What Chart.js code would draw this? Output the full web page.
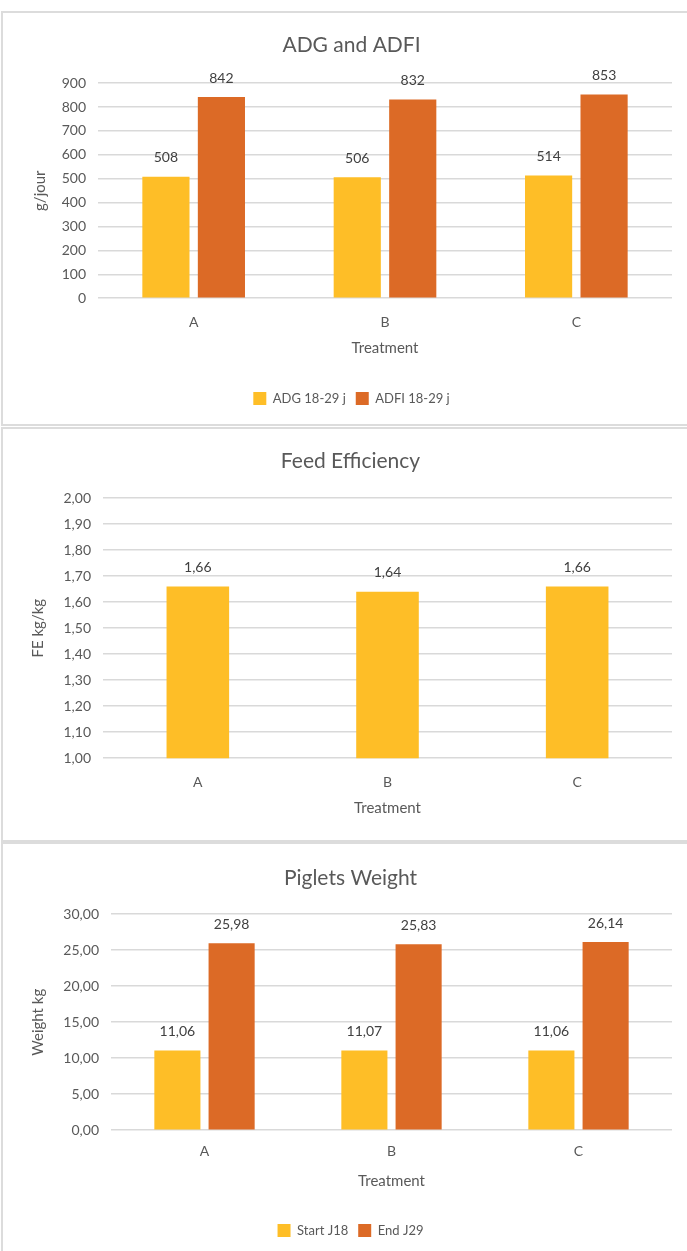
<!DOCTYPE html>
<html>
<head>
<meta charset="utf-8">
<script src="https://cdn.jsdelivr.net/npm/chart.js@4/dist/chart.umd.min.js"></script>
<style>
  body { margin: 0; background: #fff; width: 687px; height: 1251px; overflow: hidden; position: relative; }
  .panel { position: absolute; left: 1px; width: 700px; border: 2px solid #dcdcdc; box-sizing: border-box; background: #fff; }
  .panel canvas { position: absolute; left: 0; top: 0; }
</style>
</head>
<body>
<div class="panel" style="top:11px;height:415px;"><canvas id="c1" width="686" height="411"></canvas></div>
<div class="panel" style="top:427px;height:415px;"><canvas id="c2" width="686" height="411"></canvas></div>
<div class="panel" style="top:842px;height:420px;"><canvas id="c3" width="686" height="407"></canvas></div>
<script>
const treatments = ['A', 'B', 'C'];

const adg = [508, 506, 514];
const adfi = [842, 832, 853];

const feedEff = [1.66, 1.64, 1.66];

const startWeight = [11.06, 11.07, 11.06];
const endWeight = [25.98, 25.83, 26.14];

const YELLOW = '#FEBE27';
const ORANGE = '#DC6A26';
const GREY = '#595959';
const FONT = "'Lato', sans-serif";

const comma = v => v.toFixed(2).replace('.', ',');

// value labels above each bar
const barLabels = {
    id: 'barLabels',
    afterDatasetsDraw(chart, args, opts) {
        const ctx = chart.ctx;
        ctx.save();
        ctx.font = '14px ' + FONT;
        ctx.fillStyle = '#404040';
        ctx.textAlign = 'center';
        ctx.textBaseline = 'middle';
        chart.data.datasets.forEach((ds, i) => {
            chart.getDatasetMeta(i).data.forEach((bar, j) => {
                ctx.fillText(opts.fmt(ds.data[j]), bar.x, bar.y - 19);
            });
        });
        ctx.restore();
    }
};

function makeChart(id, opt) {
    const datasets = opt.series.map(s => ({
        label: s.label,
        data: s.data,
        backgroundColor: s.color,
        borderWidth: 0,
        categoryPercentage: opt.cp,
        barPercentage: opt.bp
    }));
    return new Chart(document.getElementById(id), {
        type: 'bar',
        data: { labels: treatments, datasets },
        plugins: [barLabels],
        options: {
            responsive: false,
            animation: false,
            layout: { padding: opt.padding },
            plugins: {
                barLabels: { fmt: opt.fmt },
                title: {
                    display: true,
                    text: opt.title,
                    color: GREY,
                    font: { family: FONT, size: 21, weight: 'normal' },
                    padding: opt.titlePad
                },
                legend: {
                    display: opt.legend,
                    position: 'bottom',
                    labels: {
                        color: GREY,
                        font: { family: FONT, size: 13 },
                        boxWidth: 13,
                        boxHeight: 13,
                        padding: 10
                    }
                },
                tooltip: { enabled: false }
            },
            scales: {
                x: {
                    grid: { display: false },
                    border: { display: false },
                    ticks: { color: GREY, font: { family: FONT, size: 14 }, padding: opt.tickPad },
                    title: { display: true, text: 'Treatment', color: GREY, font: { family: FONT, size: 15 }, padding: opt.xTitlePad }
                },
                y: {
                    min: opt.min,
                    max: opt.max,
                    afterFit: s => { s.width = opt.yWidth; },
                    grid: { color: '#d9d9d9', lineWidth: 1.5, drawTicks: false },
                    border: { display: false },
                    ticks: {
                        stepSize: opt.step,
                        color: GREY,
                        padding: 12,
                        font: { family: FONT, size: 14 },
                        callback: v => opt.tickFmt(v)
                    },
                    title: { display: true, text: opt.yTitle, color: GREY, font: { family: FONT, size: 15 }, padding: 0 }
                }
            }
        }
    });
}

makeChart('c1', {
    title: 'ADG and ADFI',
    series: [
        { label: 'ADG 18-29 j', data: adg, color: YELLOW },
        { label: 'ADFI 18-29 j', data: adfi, color: ORANGE }
    ],
    min: 0, max: 900, step: 100,
    tickFmt: v => v,
    fmt: v => v,
    yTitle: 'g/jour',
    yWidth: 67,
    cp: 0.58, bp: 0.85,
    legend: true,
    tickPad: 8,
    xTitlePad: { top: 0, bottom: 25 },
    titlePad: { top: 20, bottom: 25 },
    padding: { left: 28, right: 17, bottom: 9 }
});

makeChart('c2', {
    title: 'Feed Efficiency',
    series: [{ label: 'FE', data: feedEff, color: YELLOW }],
    min: 1, max: 2, step: 0.1,
    tickFmt: v => comma(v),
    fmt: v => comma(v),
    yTitle: 'FE kg/kg',
    yWidth: 74,
    cp: 0.33, bp: 1,
    legend: false,
    tickPad: 8,
    xTitlePad: { top: 0, bottom: 0 },
    titlePad: { top: 20, bottom: 24 },
    padding: { left: 26, right: 17, bottom: 23 }
});

makeChart('c3', {
    title: 'Piglets Weight',
    series: [
        { label: 'Start J18', data: startWeight, color: YELLOW },
        { label: 'End J29', data: endWeight, color: ORANGE }
    ],
    min: 0, max: 30, step: 5,
    tickFmt: v => comma(v),
    fmt: v => comma(v),
    yTitle: 'Weight kg',
    yWidth: 82,
    cp: 0.58, bp: 0.85,
    legend: true,
    tickPad: 5,
    xTitlePad: { top: 7, bottom: 24 },
    titlePad: { top: 22, bottom: 23 },
    padding: { left: 26, right: 17, bottom: 4 }
});
</script>
</body>
</html>
